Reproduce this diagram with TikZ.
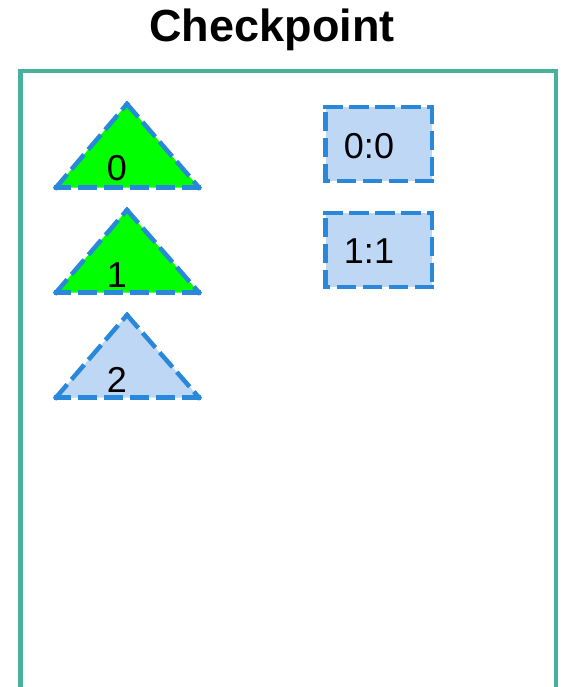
\documentclass[tikz,border=0pt]{standalone}
\usepackage{fontspec}
\setmainfont{Liberation Sans}
\definecolor{teal1}{HTML}{47B19C}
\definecolor{dashblue}{HTML}{2A88DB}
\definecolor{fillblue}{HTML}{BDD7F4}
\definecolor{green1}{HTML}{00FF00}
\tikzset{
  dashedge/.style={draw=dashblue, line width=4.5pt, dash pattern=on 15pt off 11pt, line cap=rect},
  lbl/.style={inner sep=0pt, font=\fontsize{36}{40}\selectfont},
}
\begin{document}
\begin{tikzpicture}[x=1pt, y=-1pt]
\useasboundingbox (0,0) rectangle (560,687);
\clip (0,0) rectangle (560,687);
% title
\node[inner sep=0pt, anchor=base, font=\bfseries\fontsize{45}{50}\selectfont] (title) at (272,42) {Checkpoint};
% frame
\draw[teal1, line width=4.5pt] (20.5,71) rectangle (556,700);
% triangles: corners
\coordinate (a0) at (127,104); \coordinate (b0) at (199,187.5); \coordinate (c0) at (56,187.5);
\coordinate (a1) at (127,210); \coordinate (b1) at (199,292.5); \coordinate (c1) at (56,292.5);
\coordinate (a2) at (127,315); \coordinate (b2) at (199,397.5); \coordinate (c2) at (56,397.5);
\fill[green1] (a0) -- (b0) -- (c0) -- cycle;
\fill[green1] (a1) -- (b1) -- (c1) -- cycle;
\fill[fillblue] (a2) -- (b2) -- (c2) -- cycle;
\foreach \i in {0,1,2}{
  \draw[dashedge] (a\i) -- (b\i);
  \draw[dashedge] (b\i) -- (c\i);
  \draw[dashedge] (c\i) -- (a\i);
}
\node[lbl] (t0) at (117,168) {0};
\node[lbl] (t1) at (117,275) {1};
\node[lbl] (t2) at (117,380) {2};
% state boxes
\coordinate (p0) at (325.5,107); \coordinate (q0) at (432,181);
\coordinate (p1) at (325.5,213); \coordinate (q1) at (432,287);
\foreach \i in {0,1}{
  \fill[fillblue] (p\i) rectangle (q\i);
  \draw[dashedge] (p\i) -- (p\i -| q\i);
  \draw[dashedge] (p\i -| q\i) -- (q\i);
  \draw[dashedge] (q\i) -- (q\i -| p\i);
  \draw[dashedge] (q\i -| p\i) -- (p\i);
}
\node[lbl] (s0) at (369,146) {0:0};
\node[lbl] (s1) at (369,251) {1:1};
\end{tikzpicture}
\end{document}
